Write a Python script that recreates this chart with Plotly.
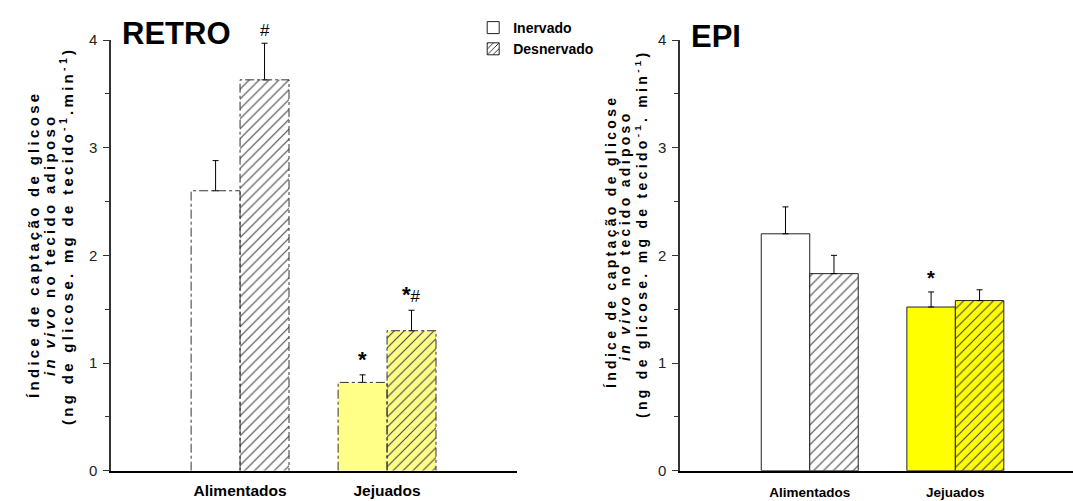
import plotly.graph_objects as go

# Groups and series
groups = ["Alimentados", "Jejuados"]
series = ["Inervado", "Desnervado"]

# RETRO fat pad: mean and SEM (upper only)
retro_inervado = [2.60, 0.82]
retro_inervado_err = [0.28, 0.07]
retro_desnervado = [3.63, 1.30]
retro_desnervado_err = [0.34, 0.19]

# EPI fat pad
epi_inervado = [2.20, 1.52]
epi_inervado_err = [0.25, 0.14]
epi_desnervado = [1.83, 1.58]
epi_desnervado_err = [0.17, 0.10]

# Significance marks (group index, series index, label)
retro_marks = [(0, 1, "#"), (1, 0, "*"), (1, 1, "*#")]
epi_marks = [(1, 0, "*")]

y_ticks = [0, 1, 2, 3, 4]

W, H = 1073, 501
FONT = "Liberation Sans, Arial, sans-serif"
BAR_W = 0.333
xpos = list(range(len(groups)))

fig = go.Figure()

HATCH = dict(shape="/", fgcolor="black", fgopacity=1, size=7, solidity=0.16, fillmode="overlay")


def add_panel(xa, ya, inerv, inerv_err, desn, desn_err, fills, outline_dash):
    line_w = 0 if outline_dash else 1
    fig.add_trace(go.Bar(
        x=xpos, y=inerv, width=BAR_W, offset=-BAR_W,
        marker=dict(color=fills, line=dict(color="#222", width=line_w)),
        error_y=dict(type="data", symmetric=False, array=inerv_err,
                     arrayminus=[0] * len(inerv), color="black", thickness=1, width=3),
        xaxis=xa, yaxis=ya, showlegend=False, name=series[0]))
    fig.add_trace(go.Bar(
        x=xpos, y=desn, width=BAR_W, offset=0,
        marker=dict(color=fills, line=dict(color="#222", width=line_w), pattern=HATCH),
        error_y=dict(type="data", symmetric=False, array=desn_err,
                     arrayminus=[0] * len(desn), color="black", thickness=1, width=3),
        xaxis=xa, yaxis=ya, showlegend=False, name=series[1]))
    if outline_dash:
        # dash-dot outlines around every bar
        for vals, off in ((inerv, -BAR_W), (desn, 0)):
            for c, v in zip(xpos, vals):
                x0, x1 = c + off, c + off + BAR_W
                fig.add_trace(go.Scatter(
                    x=[x0, x0, x1, x1], y=[0, v, v, 0], mode="lines",
                    line=dict(color="#333", width=1, dash="dashdot"),
                    xaxis=xa, yaxis=ya, showlegend=False, hoverinfo="skip"))


add_panel("x", "y", retro_inervado, retro_inervado_err, retro_desnervado,
          retro_desnervado_err, ["white", "#ffff88"], True)
add_panel("x2", "y2", epi_inervado, epi_inervado_err, epi_desnervado,
          epi_desnervado_err, ["white", "#ffff00"], False)

# legend entries
fig.add_trace(go.Bar(x=[None], y=[None], name=series[0], xaxis="x", yaxis="y",
                     marker=dict(color="white", line=dict(color="#222", width=1))))
fig.add_trace(go.Bar(x=[None], y=[None], name=series[1], xaxis="x", yaxis="y",
                     marker=dict(color="white", line=dict(color="#222", width=1),
                                 pattern=dict(HATCH, size=5, solidity=0.2))))


def mark_text(label):
    # bold star, plain hash
    out = ""
    for ch in label:
        if ch == "*":
            out += "<b>*</b>"
        else:
            out += '<span style="font-size:17px">#</span>'
    return out


# significance annotations above the error bars
for marks, inerv, ierr, desn, derr, xr, yr, fsize in (
        (retro_marks, retro_inervado, retro_inervado_err, retro_desnervado, retro_desnervado_err, "x", "y", 22),
        (epi_marks, epi_inervado, epi_inervado_err, epi_desnervado, epi_desnervado_err, "x2", "y2", 20)):
    for g, s, txt in marks:
        top = (inerv[g] + ierr[g]) if s == 0 else (desn[g] + derr[g])
        xc = xpos[g] + (-BAR_W / 2 if s == 0 else BAR_W / 2)
        fig.add_annotation(x=xc, y=top, xref=xr, yref=yr, text=mark_text(txt),
                           showarrow=False, xanchor="center", yanchor="bottom", yshift=1,
                           font=dict(family=FONT, size=17 if txt == "#" else fsize, color="black"))

axis_common = dict(showline=True, linecolor="black", linewidth=2, ticks="",
                   showgrid=False, zeroline=False, tickvals=xpos, ticktext=groups)
yaxis_common = dict(showline=True, linecolor="#333", linewidth=1.5, range=[0, 4],
                    tickvals=y_ticks, ticks="outside", ticklen=6, tickwidth=1,
                    tickcolor="#333", showgrid=False, zeroline=False,
                    tickfont=dict(family=FONT, size=15, color="#222"),
                    ticklabelstandoff=3,
                    minor=dict(ticks="outside", ticklen=4, dtick=0.5, tickcolor="#333"))

ydom = [30.3 / H, 461 / H]
fig.update_layout(
    width=W, height=H, margin=dict(l=0, r=0, t=0, b=0, autoexpand=False),
    paper_bgcolor="white", plot_bgcolor="white",
    barmode="overlay",
    xaxis=dict(domain=[111 / W, 517 / W], range=[-0.878, 1.884], anchor="y",
               tickfont=dict(family=FONT, size=15.5, color="black", weight="bold"),
               ticklabelstandoff=5, **axis_common),
    yaxis=dict(domain=ydom, anchor="x", **yaxis_common),
    xaxis2=dict(domain=[680 / W, 1.0], range=[-0.891, 1.808], anchor="y2",
                tickfont=dict(family=FONT, size=13.5, color="black", weight="bold"),
                ticklabelstandoff=8, **axis_common),
    yaxis2=dict(domain=ydom, anchor="x2", **yaxis_common),
    legend=dict(x=0.441, y=1 - 12 / H, xanchor="left", yanchor="top",
                font=dict(family=FONT, size=14, color="black", weight="bold"),
                bgcolor="rgba(0,0,0,0)", itemclick=False, tracegroupgap=0),
    showlegend=True,
)

# panel titles
fig.add_annotation(x=176.5 / W, y=1 - 33.5 / H, xref="paper", yref="paper", text="<b>RETRO</b>",
                   xanchor="center", yanchor="middle",
                   showarrow=False, font=dict(family=FONT, size=31, color="black"))
fig.add_annotation(x=715.5 / W, y=1 - 37 / H, xref="paper", yref="paper", text="<b>EPI</b>",
                   xanchor="center", yanchor="middle",
                   showarrow=False, font=dict(family=FONT, size=31, color="black"))


# rotated three-line y titles
def ytitle(lines, xs, ys, spacing, size):
    for txt, xp, yp in zip(lines, xs, ys):
        fig.add_annotation(x=xp / W, y=1 - yp / H, xref="paper", yref="paper",
                           text=f'<span style="letter-spacing:{spacing}px">{txt}</span>',
                           textangle=-90, showarrow=False, xanchor="center", yanchor="middle",
                           font=dict(family=FONT, size=size, color="black", weight="bold"))


ytitle(["Índice de captação de glicose",
        "<i>in vivo</i> no tecido adiposo",
        "(ng de glicose. mg de tecido<sup>-1</sup>.min<sup>-1</sup>)"],
       [33, 49, 66], [245, 245, 236], 3.3, 15)
ytitle(["Índice de captação de glicose",
        "<i>in vivo</i> no tecido adiposo",
        "(ng de glicose. mg de tecido<sup>-1</sup>. min<sup>-1</sup>)"],
       [611, 625, 641], [242, 236, 234], 3.3, 14)

fig.write_html("out.html")
